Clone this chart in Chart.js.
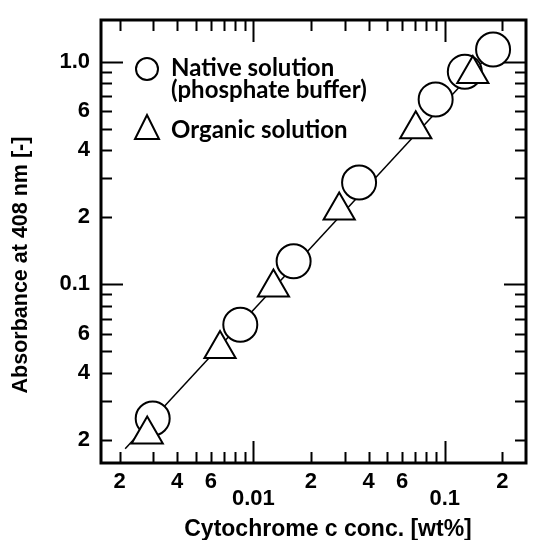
<!DOCTYPE html>
<html>
<head>
<meta charset="utf-8">
<script src="https://cdn.jsdelivr.net/npm/chart.js@4.4.1/dist/chart.umd.min.js"></script>
<style>
  html, body { margin: 0; padding: 0; background: #fff; }
  #wrap { width: 546px; height: 540px; }
</style>
</head>
<body>
<div id="wrap"><canvas id="absChart" width="546" height="540"></canvas></div>
<script>
// native solution (phosphate buffer) - circles
let nativeConc = [0.00298, 0.00855, 0.01624, 0.0357, 0.0897, 0.1274, 0.179];
let nativeAbs = [0.0249, 0.0657, 0.1268, 0.2867, 0.677, 0.902, 1.135];
// organic solution - triangles
let organicConc = [0.00279, 0.0067, 0.01274, 0.0281, 0.0706, 0.1403];
let organicAbs = [0.0211, 0.0511, 0.0966, 0.2147, 0.497, 0.880];
// fitted line ends
let fitConc = [0.00214, 0.18];
let fitAbs = [0.0182, 1.13];

let xTickValues = [0.002, 0.003, 0.004, 0.005, 0.006, 0.007, 0.008, 0.009, 0.01,
    0.02, 0.03, 0.04, 0.05, 0.06, 0.07, 0.08, 0.09, 0.1, 0.2];
let xTickLabels = ['2', '', '4', '', '6', '', '', '', ['', '0.01'],
    '2', '', '4', '', '6', '', '', '', ['', '0.1'], '2'];
let yTickValues = [0.02, 0.03, 0.04, 0.05, 0.06, 0.07, 0.08, 0.09, 0.1,
    0.2, 0.3, 0.4, 0.5, 0.6, 0.7, 0.8, 0.9, 1.0];
let yTickLabels = ['2', '', '4', '', '6', '', '', '', '0.1',
    '2', '', '4', '', '6', '', '', '', '1.0'];
let majorTicks = [0.01, 0.1, 1.0];

let xTitle = 'Cytochrome c conc. [wt%]';
let yTitle = 'Absorbance at 408 nm [-]';

let toPoints = function (xs, ys) {
    return xs.map(function (x, i) { return { x: x, y: ys[i] }; });
};

let tickFont = { family: 'Liberation Sans', weight: 'bold', size: 22, lineHeight: 0.75 };

// frame, inward ticks on all four sides, axis titles and legend
let framePlugin = {
    id: 'frame',
    afterDraw: function (chart) {
        let ctx = chart.ctx;
        let a = chart.chartArea;
        let xs = chart.scales.x, ys = chart.scales.y;
        ctx.save();
        ctx.strokeStyle = '#000';
        ctx.lineWidth = 2;
        xTickValues.forEach(function (v) {
            let px = Math.round(xs.getPixelForValue(v)) + 0.5;
            let len = majorTicks.indexOf(v) >= 0 ? 22 : 11;
            ctx.beginPath();
            ctx.moveTo(px, a.bottom); ctx.lineTo(px, a.bottom - len);
            ctx.moveTo(px, a.top); ctx.lineTo(px, a.top + len);
            ctx.stroke();
        });
        yTickValues.forEach(function (v) {
            let py = Math.round(ys.getPixelForValue(v)) + 0.5;
            let len = majorTicks.indexOf(v) >= 0 ? 22 : 11;
            ctx.beginPath();
            ctx.moveTo(a.left, py); ctx.lineTo(a.left + len, py);
            ctx.moveTo(a.right, py); ctx.lineTo(a.right - len, py);
            ctx.stroke();
        });
        ctx.lineWidth = 3;
        ctx.strokeRect(a.left, a.top, a.right - a.left, a.bottom - a.top);

        // axis titles
        ctx.fillStyle = '#000';
        ctx.font = 'bold 23px "Liberation Sans"';
        ctx.textAlign = 'center';
        ctx.textBaseline = 'alphabetic';
        ctx.fillText(xTitle, 328, 536);
        ctx.save();
        ctx.translate(27, 265);
        ctx.rotate(-Math.PI / 2);
        ctx.font = 'bold 21.5px "Liberation Sans"';
        ctx.fillText(yTitle, 0, 0);
        ctx.restore();

        // legend
        ctx.lineWidth = 2;
        ctx.beginPath();
        ctx.arc(147, 69, 11, 0, Math.PI * 2);
        ctx.stroke();
        ctx.beginPath();
        ctx.moveTo(147, 115); ctx.lineTo(159, 139); ctx.lineTo(135, 139);
        ctx.closePath();
        ctx.stroke();
        ctx.font = 'bold 24px Lato';
        ctx.textAlign = 'left';
        ctx.fillText('Native solution', 171, 76);
        ctx.fillText('(phosphate buffer)', 171, 98);
        ctx.fillText('Organic solution', 171, 138);
        ctx.restore();
    }
};

window.onload = function () {
    let ctx = document.getElementById('absChart').getContext('2d');
    window.absChart = new Chart(ctx, {
        type: 'scatter',
        data: {
            datasets: [{
                label: 'Organic solution',
                data: toPoints(organicConc, organicAbs),
                pointStyle: 'triangle',
                pointRadius: 18,
                pointHoverRadius: 18,
                pointBorderWidth: 2,
                pointBackgroundColor: '#fff',
                pointBorderColor: '#000'
            }, {
                label: 'Native solution (phosphate buffer)',
                data: toPoints(nativeConc, nativeAbs),
                pointStyle: 'circle',
                pointRadius: 17,
                pointHoverRadius: 17,
                pointBorderWidth: 2,
                pointBackgroundColor: '#fff',
                pointBorderColor: '#000'
            }, {
                label: 'fit',
                type: 'line',
                data: toPoints(fitConc, fitAbs),
                borderColor: '#000',
                borderWidth: 1.5,
                pointRadius: 0,
                fill: false
            }]
        },
        options: {
            responsive: false,
            animation: false,
            layout: { padding: { left: 0, right: 3, top: 7, bottom: 0 } },
            plugins: {
                legend: { display: false },
                tooltip: { enabled: false }
            },
            scales: {
                x: {
                    type: 'logarithmic',
                    min: 0.0016,
                    max: 0.266,
                    afterBuildTicks: function (scale) {
                        scale.ticks = xTickValues.map(function (v) { return { value: v }; });
                    },
                    afterFit: function (scale) { scale.height = 77; },
                    grid: { display: false, drawTicks: false },
                    border: { display: false },
                    ticks: {
                        autoSkip: false,
                        maxRotation: 0,
                        padding: 11,
                        color: '#000',
                        font: tickFont,
                        callback: function (v, i) { return xTickLabels[i]; }
                    }
                },
                y: {
                    type: 'logarithmic',
                    min: 0.01572,
                    max: 1.54,
                    afterBuildTicks: function (scale) {
                        scale.ticks = yTickValues.map(function (v) { return { value: v }; });
                    },
                    afterFit: function (scale) { scale.width = 101; },
                    grid: { display: false, drawTicks: false },
                    border: { display: false },
                    ticks: {
                        autoSkip: false,
                        padding: 11,
                        color: '#000',
                        font: tickFont,
                        callback: function (v, i) { return yTickLabels[i]; }
                    }
                }
            }
        },
        plugins: [framePlugin]
    });
};
</script>
</body>
</html>
